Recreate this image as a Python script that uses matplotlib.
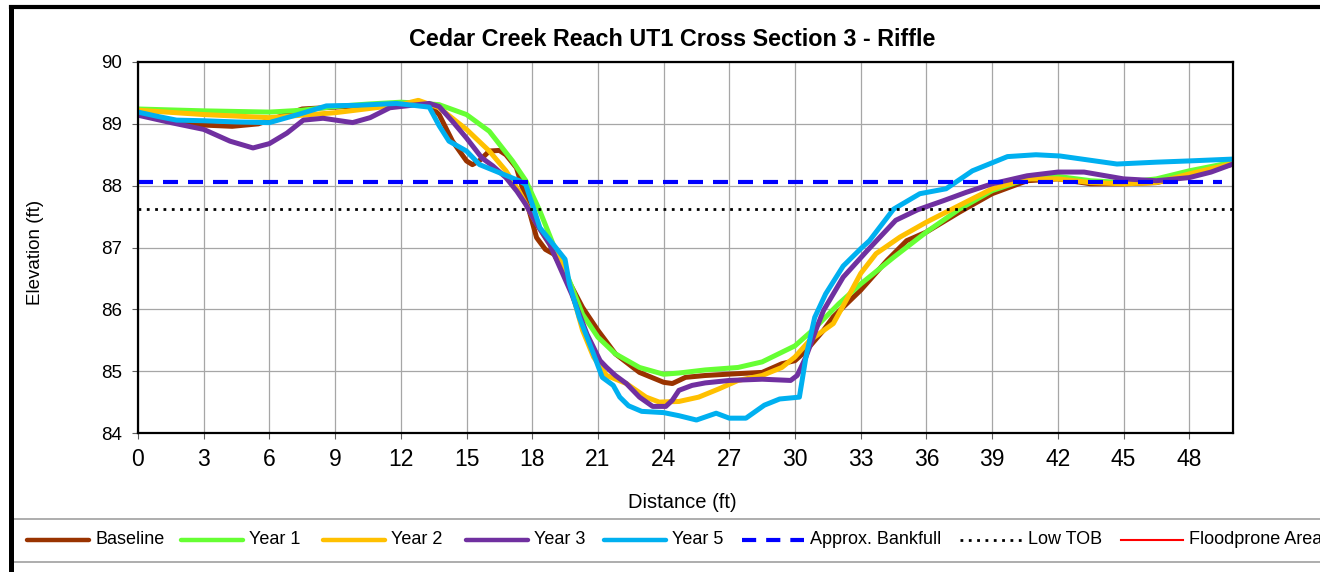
import matplotlib
matplotlib.use("Agg")
import matplotlib.pyplot as plt
from matplotlib.lines import Line2D

plt.rcParams['font.family'] = ['Liberation Sans', 'DejaVu Sans']

# ---------------- data ----------------
baseline_x = [0, 1.5, 3, 4.3, 5.5, 6.5, 7.5, 9, 10.5, 12, 12.8, 13.3, 13.75, 14.36, 15, 15.27, 15.58,
              16.04, 16.5, 16.8, 17.28, 17.7, 18.2, 18.6, 19.0, 19.5, 20.3, 21, 21.8, 22.9, 24, 24.4,
              25.0, 25.9, 27.4, 28.5, 29.4, 30, 30.5, 31.3, 31.75, 33, 34.2, 35.1, 36, 37.5, 39, 40.6,
              42, 43.5, 45, 46.5, 48, 50]
baseline_y = [89.17, 89.05, 88.98, 88.96, 89.0, 89.12, 89.24, 89.27, 89.3, 89.33, 89.35, 89.3, 89.15,
              88.72, 88.4, 88.34, 88.4, 88.56, 88.57, 88.5, 88.29, 87.8, 87.16, 86.97, 86.89, 86.57,
              86.03, 85.66, 85.28, 84.98, 84.82, 84.8, 84.9, 84.93, 84.96, 84.98, 85.12, 85.17, 85.33,
              85.66, 85.88, 86.31, 86.79, 87.11, 87.25, 87.57, 87.87, 88.08, 88.11, 88.03, 88.03,
              88.05, 88.16, 88.35]

year1_x = [0, 3, 6, 7.5, 9, 10.5, 12, 13, 13.75, 15, 16.04, 17.1, 17.71, 18.35, 18.96, 19.7, 20.3, 21,
           21.8, 22.9, 24, 24.7, 25.9, 27.4, 28.5, 30, 30.8, 32, 33, 34.5, 36, 37.5, 39, 40.6, 42,
           43.5, 45, 46.5, 48, 50]
year1_y = [89.24, 89.21, 89.19, 89.22, 89.28, 89.32, 89.35, 89.33, 89.31, 89.15, 88.88, 88.4, 88.08,
           87.59, 87.05, 86.46, 85.92, 85.55, 85.28, 85.06, 84.95, 84.97, 85.02, 85.06, 85.15, 85.41,
           85.66, 86.09, 86.41, 86.84, 87.25, 87.62, 87.92, 88.11, 88.15, 88.08, 88.05, 88.11, 88.24,
           88.38]

year2_x = [0, 3, 6, 9, 12, 12.8, 13.75, 15, 16.04, 16.8, 17.4, 18.05, 18.6, 19.2, 19.8, 20.3, 20.8,
           21.4, 22.3, 23.2, 23.8, 24.7, 25.6, 26.5, 27.4, 28.5, 29.4, 30, 30.65, 31.75, 32.5, 33,
           33.7, 34.8, 36, 37.5, 39, 40.6, 42, 43.5, 45, 46.5, 48, 50]
year2_y = [89.22, 89.15, 89.1, 89.18, 89.31, 89.38, 89.26, 88.91, 88.56, 88.24, 87.91, 87.48, 87.16,
           86.84, 86.3, 85.66, 85.23, 84.93, 84.8, 84.58, 84.5, 84.51, 84.58, 84.71, 84.85, 84.93,
           85.06, 85.23, 85.49, 85.77, 86.25, 86.58, 86.9, 87.17, 87.41, 87.68, 87.95, 88.11, 88.11,
           88.05, 88.03, 88.05, 88.19, 88.36]

year3_x = [0, 1.5, 3, 4.2, 5.25, 6, 6.8, 7.55, 8.45, 9.8, 10.6, 11.5, 12.5, 13.3, 13.75, 14.36, 15,
           15.7, 16.2, 16.8, 17.3, 17.7, 18.2, 18.8, 19.2, 19.8, 20.5, 21.1, 21.4, 21.8, 22.3, 22.9,
           23.5, 24.1, 24.4, 24.7, 25.3, 25.9, 27, 28.5, 29.8, 30.1, 30.5, 31.0, 31.3, 32.2, 33.3,
           34.6, 35.6, 36.8, 37.8, 39, 40.6, 42, 43.2, 45, 46.5, 48, 49, 50]
year3_y = [89.14, 89.02, 88.91, 88.72, 88.61, 88.68, 88.85, 89.06, 89.09, 89.02, 89.1, 89.26, 89.3,
           89.33, 89.28, 89.04, 88.77, 88.45, 88.32, 88.13, 87.91, 87.7, 87.38, 87.05, 86.73, 86.25,
           85.6, 85.17, 85.06, 84.93, 84.8, 84.58, 84.43, 84.43, 84.53, 84.69, 84.77, 84.81, 84.85,
           84.87, 84.85, 84.93, 85.23, 85.71, 85.98, 86.52, 86.95, 87.44, 87.61, 87.76, 87.89, 88.03,
           88.16, 88.22, 88.22, 88.11, 88.08, 88.13, 88.22, 88.35]

year5_x = [0, 0.9, 1.76, 3, 4.5, 6, 7.3, 8.6, 10, 11.8, 13.3, 13.75, 14.2, 15, 15.6, 16.5, 17.4, 17.7,
           18.05, 18.35, 18.96, 19.5, 19.7, 20.15, 20.8, 21.2, 21.7, 22.0, 22.4, 23.0, 24, 24.7, 25.5,
           26.4, 27.0, 27.76, 28.6, 29.3, 30.2, 30.5, 30.9, 31.4, 32.2, 33, 33.4, 34.5, 35.7, 36.9,
           38.1, 39.7, 41.0, 42.1, 43.5, 44.7, 46.5, 48, 50]
year5_y = [89.19, 89.12, 89.06, 89.05, 89.03, 89.02, 89.15, 89.29, 89.3, 89.33, 89.27, 88.97, 88.72,
           88.56, 88.34, 88.21, 88.08, 88.02, 87.65, 87.32, 87.05, 86.81, 86.41, 85.87, 85.28, 84.9,
           84.77, 84.58, 84.44, 84.35, 84.33, 84.28, 84.21, 84.32, 84.24, 84.24, 84.45, 84.55, 84.58,
           85.23, 85.87, 86.25, 86.7, 86.98, 87.11, 87.62, 87.87, 87.95, 88.24, 88.47, 88.5, 88.48,
           88.41, 88.35, 88.38, 88.4, 88.43]

bankfull_x = [0, 49.5]
bankfull_y = [88.06, 88.06]
lowtob_x = [0, 50]
lowtob_y = [87.62, 87.62]

title = "Cedar Creek Reach UT1 Cross Section 3 - Riffle"
x_ticks = [0, 3, 6, 9, 12, 15, 18, 21, 24, 27, 30, 33, 36, 39, 42, 45, 48]
y_ticks = [84, 85, 86, 87, 88, 89, 90]
legend_labels = ['Baseline', 'Year 1', 'Year 2', 'Year 3', 'Year 5',
                 'Approx. Bankfull', 'Low TOB', 'Floodprone Area']

# ---------------- figure ----------------
W, H = 1320, 572
fig = plt.figure(figsize=(W / 100, H / 100), dpi=100)
ax = fig.add_axes([138 / W, 1 - 433 / H, (1233 - 138) / W, (433 - 62) / H])

styles = [
    dict(color='#993300', lw=3.6, solid_capstyle='round'),
    dict(color='#66FF33', lw=3.6, solid_capstyle='round'),
    dict(color='#FFC000', lw=3.6, solid_capstyle='round'),
    dict(color='#7030A0', lw=3.6, solid_capstyle='round'),
    dict(color='#00B0F0', lw=3.6, solid_capstyle='round'),
    dict(color='#0000FF', lw=3, dashes=(3.6, 2.4)),
    dict(color='black', lw=2, dashes=(1, 2)),
    dict(color='#FF0000', lw=1.5),
]
series = [(baseline_x, baseline_y), (year1_x, year1_y), (year2_x, year2_y), (year3_x, year3_y),
          (year5_x, year5_y), (bankfull_x, bankfull_y), (lowtob_x, lowtob_y)]
for (sx, sy), st, lab in zip(series, styles, legend_labels):
    ax.plot(sx, sy, label=lab, **st)

ax.set_xlim(0, 50)
ax.set_ylim(84, 90)
ax.set_xticks(x_ticks)
ax.set_yticks(y_ticks)
ax.grid(True, color='#A6A6A6', lw=0.9)
ax.set_axisbelow(True)
for s in ax.spines.values():
    s.set_linewidth(1.6)
    s.set_color('black')
ax.tick_params(axis='x', labelsize=16.5, length=4.5, width=0.8, color='#606060', pad=6)
ax.tick_params(axis='y', labelsize=13.5, length=4.5, width=0.8, color='#606060', pad=7)

fig.text(682 / W, 1 - 502 / H, 'Distance (ft)', ha='center', va='center', fontsize=14.5)
fig.text(35 / W, 1 - 252 / H, 'Elevation (ft)', ha='center', va='center', fontsize=13.5, rotation=90)
fig.text(672 / W, 1 - 40 / H, title, ha='center', va='center', fontsize=16.8, fontweight='bold')

# legend (laid out as in the reference: one row between two rules)
leg_x = [27, 181, 323, 466, 604, 742, 960, 1121]
leg_y = 1 - 540 / H
for x0, st, lab in zip(leg_x, styles, legend_labels):
    st2 = dict(st)
    if st2['lw'] > 3.5:
        st2['lw'] = 3.2
    if 'dashes' in st2 and st2['color'] == '#0000FF':
        st2['dashes'] = (3.4, 2.4)
    fig.add_artist(Line2D([x0 / W, (x0 + 62) / W], [leg_y, leg_y], **st2))
    fig.text((x0 + 68) / W, leg_y, lab, ha='left', va='center', fontsize=13)

# legend rules & figure border
fig.add_artist(Line2D([10 / W, 1], [1 - 519 / H] * 2, color='#A0A0A0', lw=1.2))
fig.add_artist(Line2D([10 / W, 1], [1 - 562 / H] * 2, color='#A0A0A0', lw=1.2))
fig.add_artist(Line2D([11 / W, 11 / W], [0, 1 - 7 / H], color='black', lw=3.6, solid_capstyle='projecting'))
fig.add_artist(Line2D([11 / W, 1], [1 - 7 / H] * 2, color='black', lw=3, solid_capstyle='projecting'))

fig.savefig('out.png', dpi=100)
